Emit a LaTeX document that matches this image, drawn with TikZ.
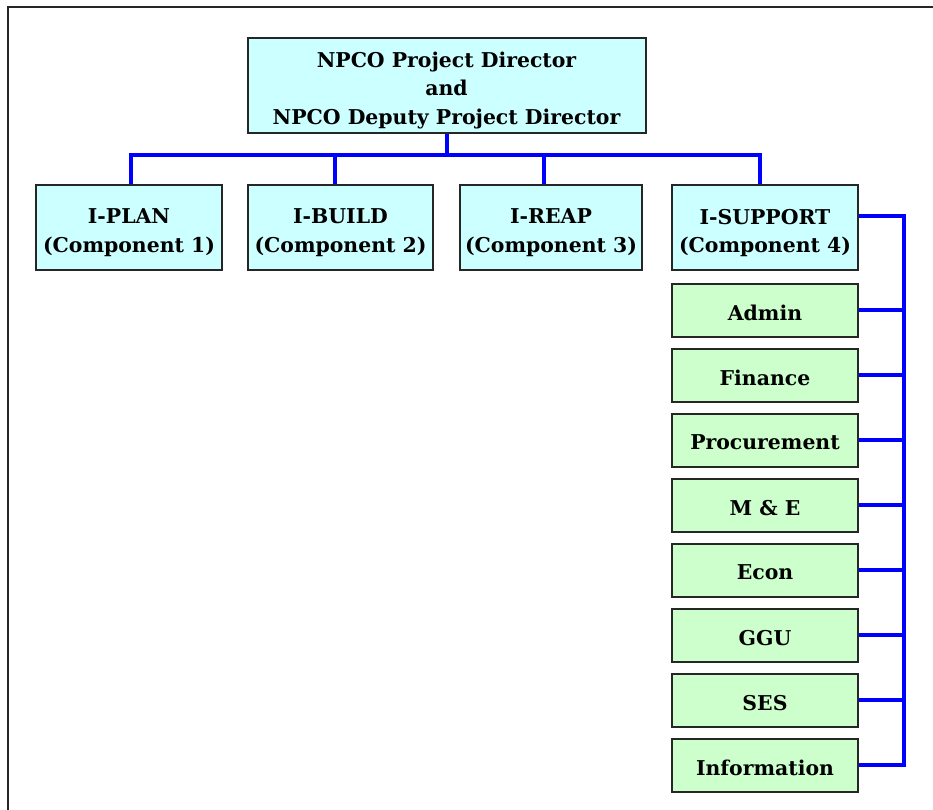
\documentclass[tikz,border=0pt]{standalone}
\usepackage{fontspec}
\setmainfont{DejaVu Serif}
\begin{document}
\begin{tikzpicture}[x=0.75pt,y=-0.75pt,
  boxtext/.style={align=center,inner sep=0pt,font=\bfseries\fontsize{15.3pt}{21.4pt}\selectfont},
  box/.style={draw=black!85,line width=1.5pt,rectangle,inner sep=0pt},
  headbox/.style={box,fill=cyanfill},
  unitbox/.style={box,fill=greenfill,minimum width=186*0.75pt,minimum height=53*0.75pt},
  compbox/.style={headbox,minimum height=85*0.75pt},
  bus/.style={draw=linkblue,line width=3pt}]
\definecolor{cyanfill}{HTML}{CCFFFF}
\definecolor{greenfill}{HTML}{CCFFCC}
\definecolor{linkblue}{HTML}{0000FF}
\useasboundingbox (0,0) rectangle (933,810);
% page frame
\draw[black!85,line width=1.5pt] (8,810) -- (8,7) -- (933,7);

% director
\node[headbox,minimum width=398*0.75pt,minimum height=95*0.75pt,
  label={[boxtext,yshift=-3.5pt]center:NPCO Project Director\\and\\NPCO Deputy Project Director}]
  (top) at (446.5,85.5) {};

% components
\node[compbox,minimum width=186*0.75pt,label={[boxtext,yshift=-4pt]center:I-PLAN\\(Component 1)}]
  (c1) at (129,227.5) {};
\node[compbox,minimum width=185*0.75pt,label={[boxtext,yshift=-4pt]center:I-BUILD\\(Component 2)}]
  (c2) at (340.5,227.5) {};
\node[compbox,minimum width=182*0.75pt,label={[boxtext,yshift=-4pt]center:I-REAP\\(Component 3)}]
  (c3) at (551,227.5) {};
\node[compbox,minimum width=186*0.75pt,label={[boxtext,yshift=-4pt]center:I-SUPPORT\\(Component 4)}]
  (c4) at (765,227.5) {};

% support units
\foreach \n/\y/\t in {admin/310/Admin, fin/375/Finance, proc/440/Procurement,
    me/505/M \& E, econ/570/Econ, ggu/635/GGU, ses/700/SES, info/765/Information}
  \node[unitbox,label={[boxtext,yshift=-2pt]center:\t}] (\n) at (765,\y) {};

% top-level bus
\coordinate (busy) at (0,155);
\coordinate (rail) at (904,0);
\draw[bus] (top.south) -- (top.south |- busy);
\draw[bus] ([xshift=1.5pt]c1.north) -- ([xshift=1.5pt]c1.north |- busy)
  -- ([xshift=-3.75pt]c4.north |- busy) -- ([xshift=-3.75pt]c4.north);
\draw[bus] ([xshift=-4pt]c2.north) -- ([xshift=-4pt]c2.north |- busy);
\draw[bus] ([xshift=-5pt]c3.north) -- ([xshift=-5pt]c3.north |- busy);

% support rail
\draw[bus] ([yshift=9pt]c4.east) -| (rail |- info.east) -- (info.east);
\foreach \u in {admin,fin,proc,me,econ,ggu,ses}
  \draw[bus] (\u.east) -- (\u.east -| rail);
\end{tikzpicture}
\end{document}
